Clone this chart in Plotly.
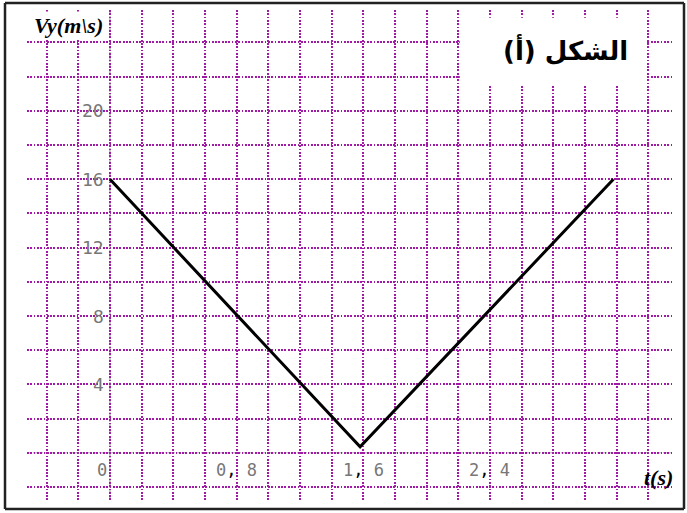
import plotly.graph_objects as go

# data
t_values = [0.0, 1.58, 3.18]
vy_values = [16.0, 0.35, 16.0]

x_tick_vals = [0.0, 0.8, 1.6, 2.4]
x_tick_text = ["0", "0<span style='color:black'>,</span> 8", "1<span style='color:black'>,</span> 6", "2<span style='color:black'>,</span> 4"]
y_tick_vals = [4, 8, 12, 16, 20]
y_tick_text = ["4", "8", "12", "16", "20"]

x_grid = [round(-0.4 + 0.2 * i, 1) for i in range(20)]
y_grid = [-2 + 2 * i for i in range(14)]

GRID = "#a11aa6"

fig = go.Figure()
fig.add_trace(go.Scatter(x=t_values, y=vy_values, mode="lines",
                         line=dict(color="black", width=3), hoverinfo="skip"))

fig.update_layout(
    width=687, height=513,
    margin=dict(l=27, r=15, t=10, b=13),
    paper_bgcolor="white", plot_bgcolor="white",
    showlegend=False,
    xaxis=dict(range=[-0.524, 3.55], tickvals=x_grid, showticklabels=False,
               showgrid=True, gridcolor=GRID, gridwidth=2, griddash="1.8px,1.5px",
               zeroline=False, showline=False, ticks=""),
    yaxis=dict(range=[-2.76, 25.9], tickvals=y_grid, showticklabels=False,
               showgrid=True, gridcolor=GRID, gridwidth=2, griddash="1.8px,1.5px",
               zeroline=False, showline=False, ticks=""),
)

# axis lines (grey dashed under the dots)
fig.add_shape(type="line", xref="x", yref="paper", x0=0, x1=0, y0=0, y1=1,
              line=dict(color="rgba(90,90,90,0.7)", width=1, dash="4px,2px"), layer="below")
fig.add_shape(type="line", xref="paper", yref="y", x0=0, x1=1, y0=0, y1=0,
              line=dict(color="rgba(90,90,90,0.5)", width=1, dash="4px,2px"), layer="below")

# white box behind the title
fig.add_shape(type="rect", xref="paper", yref="paper", x0=0.671, x1=0.96, y0=0.847, y1=0.984,
              fillcolor="white", line=dict(width=0), layer="above")

# outer frame (four edges)
FX0, FX1, FY0, FY1 = -0.0341, 1.0186, -0.0184, 1.0143
frame = dict(color="#222222", width=2.5)
fig.add_shape(type="line", xref="paper", yref="paper", x0=FX0, x1=FX1, y0=FY1, y1=FY1, line=frame, layer="above")
fig.add_shape(type="line", xref="paper", yref="paper", x0=FX0, x1=FX1, y0=FY0, y1=FY0, line=frame, layer="above")
fig.add_shape(type="line", xref="paper", yref="paper", x0=FX0, x1=FX0, y0=FY0, y1=FY1, line=frame, layer="above")
fig.add_shape(type="line", xref="paper", yref="paper", x0=FX1, x1=FX1, y0=FY0, y1=FY1, line=frame, layer="above")

for v, txt in zip(y_tick_vals, y_tick_text):
    fig.add_annotation(x=0, y=v, xref="x", yref="y", text=txt, showarrow=False,
                       xanchor="right", yanchor="middle", xshift=-4,
                       font=dict(family="DejaVu Sans Mono", size=18, color="#777777"))

for v, txt in zip(x_tick_vals, x_tick_text):
    fig.add_annotation(x=v, y=-1.0, xref="x", yref="y", text=txt, showarrow=False,
                       xanchor="right" if v == 0 else "center", yanchor="middle",
                       xshift=-1 if v == 0 else 0,
                       font=dict(family="DejaVu Sans Mono", size=17, color="#777777"))

fig.add_annotation(x=(68 - 27) / 645, y=(500 - 25) / 490, xref="paper", yref="paper",
                   text="<b><i>Vy(m\\s)</i></b>",
                   showarrow=False, xanchor="center", yanchor="middle",
                   font=dict(family="Liberation Serif", size=22, color="black"),
                   bgcolor="white")

fig.add_annotation(x=(658 - 27) / 645, y=(500 - 477) / 490, xref="paper", yref="paper",
                   text="<b><i>t(s)</i></b>", showarrow=False, xanchor="center", yanchor="middle",
                   font=dict(family="Liberation Serif", size=22, color="black"))

fig.add_annotation(x=(565 - 27) / 645, y=(500 - 50) / 490, xref="paper", yref="paper",
                   text="<b>الشكل (أ)</b>", showarrow=False, xanchor="center", yanchor="middle",
                   font=dict(family="DejaVu Sans", size=26, color="black"))

fig.write_html("out.html", config={"displayModeBar": False},
               post_script="document.body.style.margin='0';")
